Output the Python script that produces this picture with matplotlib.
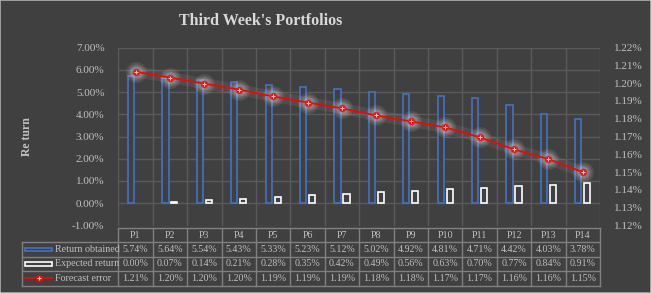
import matplotlib.pyplot as plt
from matplotlib.patches import Rectangle

plt.rcParams['font.family'] = ['Liberation Serif', 'DejaVu Serif']

portfolios = ['P1', 'P2', 'P3', 'P4', 'P5', 'P6', 'P7', 'P8', 'P9', 'P10', 'P11', 'P12', 'P13', 'P14']
return_obtained = [5.74, 5.64, 5.54, 5.43, 5.33, 5.23, 5.12, 5.02, 4.92, 4.81, 4.71, 4.42, 4.03, 3.78]
expected_return = [0.00, 0.07, 0.14, 0.21, 0.28, 0.35, 0.42, 0.49, 0.56, 0.63, 0.70, 0.77, 0.84, 0.91]
# plotted values of the forecast error (table shows them rounded)
forecast_error = [1.2064, 1.2031, 1.1997, 1.1964, 1.1925, 1.1891, 1.1858,
                  1.1818, 1.1785, 1.1751, 1.1696, 1.1628, 1.1573, 1.1500]
forecast_labels = ['1.21%', '1.20%', '1.20%', '1.20%', '1.19%', '1.19%', '1.19%',
                   '1.18%', '1.18%', '1.17%', '1.17%', '1.16%', '1.16%', '1.15%']

BG = '#404040'
GRID = '#5a5a5a'
TXT = '#c0c0c0'
BLUE = '#4472c4'
W, H = 651, 293

fig = plt.figure(figsize=(W / 100, H / 100), dpi=100, facecolor=BG)
fig.patches.append(Rectangle((0, 0), 1, 1, transform=fig.transFigure, fill=False,
                             edgecolor='#b0b0b0', linewidth=1.2))

def px(x0, y0, x1, y1):
    return [x0 / W, 1 - y1 / H, (x1 - x0) / W, (y1 - y0) / H]

x = list(range(len(portfolios)))

ax = fig.add_axes(px(118.3, 47.5, 600, 225.5))
ax.set_facecolor(BG)
ax.set_xlim(-0.5, len(portfolios) - 0.5)
ax.set_ylim(-1, 7)
ax.set_yticks(range(-1, 8))
ax.set_yticklabels([f'{v:.2f}%' for v in range(-1, 8)])
ax.set_xticks([])
for s in ax.spines.values():
    s.set_visible(False)
for v in range(0, 8):
    ax.axhline(v, color=GRID, lw=1, zorder=0)
ax.axhline(-1, color='#4a4a4a', lw=1, zorder=0)
for b in range(len(portfolios) + 1):
    ax.axvline(b - 0.5, color=GRID, lw=1, zorder=0)
ax.tick_params(axis='y', length=0, colors=TXT, labelsize=8, pad=10)

ax.bar([i - 0.13 for i in x], return_obtained, width=0.18, facecolor=BG,
       edgecolor=BLUE, linewidth=1.2, zorder=2)
ax.bar([i + 0.13 for i in x], expected_return, width=0.18, facecolor=BG,
       edgecolor='white', linewidth=[1.2 if v > 0 else 0 for v in expected_return], zorder=2)
ax.set_ylabel('Re turn', color=TXT, fontsize=8.5, fontweight='bold', labelpad=28)

ax2 = ax.twinx()
ax2.set_ylim(1.12, 1.22)
ax2.set_yticks([1.12 + 0.01 * k for k in range(11)])
ax2.set_yticklabels([f'{1.12 + 0.01 * k:.2f}%' for k in range(11)])
for s in ax2.spines.values():
    s.set_visible(False)
ax2.tick_params(axis='y', length=0, colors=TXT, labelsize=8, pad=10)
# soft glow
ax2.plot(x, forecast_error, color='white', lw=8, alpha=0.07, zorder=3, solid_capstyle='round')
for ms, a in [(15, 0.09), (12, 0.11), (9, 0.15)]:
    ax2.plot(x, forecast_error, ls='none', marker='o', ms=ms, color='white', alpha=a,
             markeredgewidth=0, zorder=3)
ax2.plot(x, forecast_error, color='#ff0000', lw=1.3, marker='o', ms=4.2,
         markerfacecolor='#ff0000', markeredgecolor='#e02020', zorder=4)
ax2.plot(x, forecast_error, ls='none', marker='+', ms=2.8, color='#ffc0c0', mew=0.8, zorder=5)

fig.text(261 / W, 1 - 21 / H, "Third Week's Portfolios", color='#d9d9d9', fontsize=11.5,
         fontweight='bold', ha='center', va='center')

# data table
tab = fig.add_axes(px(22, 228, 600, 285.5))
unit = 14 / 481.7
left = -0.5 - (118.3 - 22) * unit
tab.set_xlim(left, 13.5)
tab.set_ylim(0, 4)
tab.axis('off')
tab.patch.set_alpha(0)
border = '#808080'
rows = [
    ('Return obtained', [f'{v:.2f}%' for v in return_obtained]),
    ('Expected return', [f'{v:.2f}%' for v in expected_return]),
    ('Forecast error', forecast_labels),
]
for k in range(5):
    x0 = -0.5 if k == 4 else left
    tab.plot([x0, 13.5], [k, k], color=border, lw=1, clip_on=False)
for b in range(len(portfolios) + 1):
    tab.plot([b - 0.5, b - 0.5], [0, 4], color=border, lw=1, clip_on=False)
tab.plot([left, left], [0, 3], color=border, lw=1, clip_on=False)
for i, p in enumerate(portfolios):
    tab.text(i, 3.5, p, color=TXT, fontsize=7.2, ha='center', va='center')
for r, (name, vals) in enumerate(rows):
    yc = 2.5 - r
    for i, v in enumerate(vals):
        tab.text(i, yc, v, color=TXT, fontsize=7.2, ha='center', va='center')
    tab.text(left + 33 * unit, yc, name, color=TXT, fontsize=7.2, ha='left', va='center')

kx0 = left + 3 * unit
kx1 = left + 30 * unit
tab.add_patch(Rectangle((kx0, 2.38), kx1 - kx0, 0.24, fill=False, edgecolor=BLUE, lw=1.2))
tab.add_patch(Rectangle((kx0, 1.38), kx1 - kx0, 0.24, fill=False, edgecolor='white', lw=1.2))
tab.plot([kx0, kx1], [0.5, 0.5], color='#ff0000', lw=1.3)
tab.plot([(kx0 + kx1) / 2], [0.5], ls='none', marker='o', ms=4.2, color='#ff0000')
tab.plot([(kx0 + kx1) / 2], [0.5], ls='none', marker='+', ms=2.8, color='#ffc0c0', mew=0.8)

fig.savefig('out.png', dpi=100, facecolor=BG)
